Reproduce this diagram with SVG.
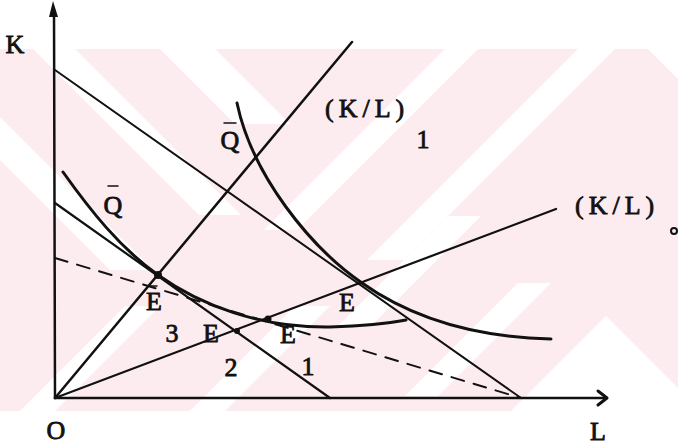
<svg xmlns="http://www.w3.org/2000/svg" width="678" height="447" viewBox="0 0 678 447">
<defs>
<style>
.ln{fill:none;stroke:#111;stroke-linecap:round;stroke-linejoin:round}
.t{font-family:"Liberation Serif",serif;font-size:26px;fill:#111;stroke:#111;stroke-width:0.8}
.wm{fill:#fff}
</style>
</defs>
<rect width="678" height="447" fill="#fff"/>
<g id="watermark">
<rect x="0" y="49" width="678" height="362" fill="#fdecef"/>
<polygon class="wm" points="33,49 75,49 241,215 199,215"/>
<polygon class="wm" points="160,49 215,49 290,124 235,124"/>
<polygon class="wm" points="0,117 0,160 110,270 153,270"/>
<polygon class="wm" points="445,49 478,49 297,230 264,230"/>
<polygon class="wm" points="578,49 615,49 404,260 367,260"/>
<polygon class="wm" points="648,49 678,49 678,79"/>
<polygon class="wm" points="338,326 371,326 481,216 448,216"/>
<polygon class="wm" points="405,396 438,396 551,283 518,283"/>
<polygon class="wm" points="606,316 678,388 678,411 511,411"/>
<polygon class="wm" points="20,411 55,411 160,306 125,306"/>
<polygon class="wm" points="190,411 225,411 330,306 295,306"/>
</g>
<g id="axes">
<line class="ln" x1="55" y1="398" x2="54" y2="10" stroke-width="2.5"/>
<polygon points="53,1 58,17 49,17" fill="#111"/>
<line class="ln" x1="55" y1="398" x2="606" y2="398" stroke-width="2.5"/>
<polyline class="ln" points="598,391 607,398 598,405" stroke-width="3"/>
</g>
<g id="connectors">
<line id="budget-upper" class="ln" x1="55" y1="70" x2="521" y2="398" stroke-width="2"/>
<line id="budget-lower" class="ln" x1="55" y1="203" x2="330" y2="398" stroke-width="2.2"/>
<line id="budget-dashed" class="ln" x1="55" y1="258" x2="521" y2="398" stroke-width="2" stroke-dasharray="13 10" stroke-linecap="butt"/>
<line id="ray-kl1" class="ln" x1="55" y1="398" x2="352" y2="42" stroke-width="2.5"/>
<line id="ray-kl0" class="ln" x1="55" y1="398" x2="556" y2="209" stroke-width="2.2"/>
<path id="isoquant-lower" class="ln" d="M63,172 C90,210 120,248 158,275 C200,305 260,328 330,327 C360,326 385,324 406,320" stroke-width="3"/>
<path id="isoquant-upper" class="ln" d="M237,103 C252,175 310,247 362,283 C410,317 470,337 551,339" stroke-width="3"/>
</g>
<g id="points" fill="#111">
<circle cx="158" cy="275" r="4"/>
<circle cx="237" cy="331" r="3"/>
<circle cx="268" cy="319" r="3.5"/>
<circle cx="674" cy="231" r="3" fill="none" stroke="#111" stroke-width="2"/>
</g>
<g id="labels">
<text class="t" x="15" y="53" text-anchor="middle">K</text>
<text class="t" x="56" y="439" text-anchor="middle">O</text>
<text class="t" x="598" y="440" text-anchor="middle">L</text>
<text class="t" x="325" y="117" letter-spacing="5">(K/L)</text>
<text class="t" x="423" y="148" text-anchor="middle">1</text>
<text class="t" x="575" y="214" letter-spacing="5">(K/L)</text>
<text class="t" x="230" y="149" text-anchor="middle">Q</text>
<line class="ln" x1="224" y1="123" x2="236" y2="123" stroke-width="1.5"/>
<text class="t" x="113" y="214" text-anchor="middle">Q</text>
<line class="ln" x1="108" y1="186" x2="118" y2="186" stroke-width="1.5"/>
<text class="t" x="154" y="310" text-anchor="middle">E</text>
<line class="ln" x1="150" y1="286" x2="157" y2="286" stroke-width="1.5"/>
<text class="t" x="172" y="342" text-anchor="middle">3</text>
<text class="t" x="211" y="342" text-anchor="middle">E</text>
<text class="t" x="288" y="343" text-anchor="middle">E</text>
<text class="t" x="231" y="376" text-anchor="middle">2</text>
<text class="t" x="308" y="375" text-anchor="middle">1</text>
<text class="t" x="347" y="311" text-anchor="middle">E</text>
</g>
</svg>
